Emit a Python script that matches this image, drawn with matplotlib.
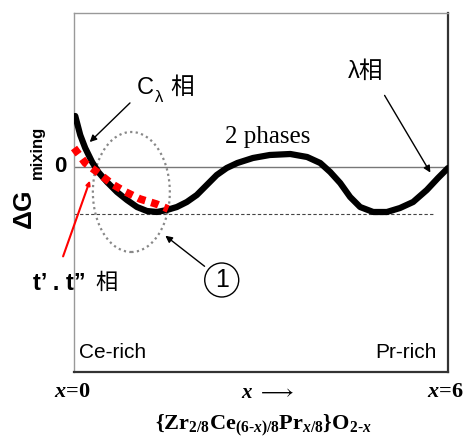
import numpy as np
import matplotlib.pyplot as plt
from matplotlib.patches import Ellipse

plt.rcParams['mathtext.fontset'] = 'custom'
plt.rcParams['mathtext.rm'] = 'Liberation Serif:bold'
plt.rcParams['mathtext.it'] = 'Liberation Serif:bold:italic'
plt.rcParams['mathtext.bf'] = 'Liberation Serif:bold'

SANS = ['Liberation Sans', 'Noto Sans CJK JP', 'DejaVu Sans']

##자유에너지 곡선 (읽은 값)
x_curve = [0.02, 0.10, 0.18, 0.29, 0.39, 0.53, 0.69, 0.85, 1.01, 1.17, 1.33, 1.49,
           1.65, 1.81, 1.97, 2.13, 2.29, 2.45, 2.62, 2.87, 3.14, 3.47, 3.74, 3.95,
           4.11, 4.27, 4.43, 4.59, 4.80, 5.02, 5.23, 5.44, 5.66, 5.84, 6.00]
g_curve = [1.02, 0.64, 0.38, 0.10, -0.10, -0.30, -0.50, -0.66, -0.80, -0.88, -0.90, -0.86,
           -0.80, -0.70, -0.56, -0.36, -0.16, -0.02, 0.08, 0.18, 0.24, 0.26, 0.20, 0.08,
           -0.10, -0.32, -0.60, -0.80, -0.90, -0.90, -0.82, -0.70, -0.46, -0.22, -0.02]

##t', t" 상 곡선
x_red = [0.00, 0.18, 0.39, 0.61, 0.83, 1.06, 1.32, 1.51]
g_red = [0.38, 0.08, -0.12, -0.34, -0.50, -0.64, -0.74, -0.84]

tangent_g = -0.94
tangent_end = 5.76

fig = plt.figure(figsize=(4.68, 4.38), dpi=100)
ax = fig.add_axes([74/468, 66/438, 374/468, 359/438])
ax.set_xlim(0, 6)
ax.set_ylim(-4.10, 3.08)
ax.set_xticks([])
ax.set_yticks([])
for s in ['top', 'left']:
    ax.spines[s].set_color('#999999')
    ax.spines[s].set_linewidth(1)
for s in ['bottom', 'right']:
    ax.spines[s].set_color('#333333')
    ax.spines[s].set_linewidth(1.6)

ax.axhline(0, color='#777777', lw=1)
ax.plot([0, tangent_end], [tangent_g, tangent_g], color='#444444', lw=0.8, ls=(0, (3, 2)))

ax.plot(x_curve, g_curve, color='black', lw=4.5, solid_capstyle='round',
        solid_joinstyle='round', zorder=3)
ax.plot(x_red, g_red, color='#ff0000', lw=5.5, ls=(0, (1, 0.8)), dash_capstyle='butt',
        zorder=4, clip_on=False)

ell = Ellipse((0.92, -0.50), 1.235, 2.4, fill=False, ec='#888888', lw=1.6, ls=(0, (1, 1.5)))
ax.add_patch(ell)

##주석
ax.annotate('', xy=(0.22, 0.46), xytext=(0.93, 1.32),
            arrowprops=dict(arrowstyle='-|>', color='black', lw=1, mutation_scale=10))
ax.text(1.01, 1.58, 'C', fontsize=17, family=SANS, va='center', ha='left')
ax.text(1.30, 1.40, 'λ', fontsize=12, family=SANS, va='center', ha='left')
ax.text(1.55, 1.58, '相', fontsize=17, family=SANS, va='center', ha='left')

ax.annotate('', xy=(5.74, -0.16), xytext=(4.96, 1.48),
            arrowprops=dict(arrowstyle='-|>', color='black', lw=1, mutation_scale=10))
ax.text(4.40, 1.90, 'λ相', fontsize=17, family=SANS, va='center', ha='left')

ax.text(2.42, 0.60, '2 phases', fontsize=18, family='Liberation Serif', va='center', ha='left')

ax.annotate('', xy=(1.43, -1.34), xytext=(2.13, -2.02),
            arrowprops=dict(arrowstyle='-|>', color='black', lw=1, mutation_scale=10))
ax.text(2.37, -2.26, '1', fontsize=18, family=SANS, va='center', ha='center',
        bbox=dict(boxstyle='circle,pad=0.2', fc='white', ec='black', lw=1))

ax.annotate('', xy=(0.27, -0.22), xytext=(-0.19, -1.84), annotation_clip=False,
            arrowprops=dict(arrowstyle='-|>', color='#ff0000', lw=1.5, mutation_scale=6))
ax.text(-0.66, -2.32, 't’ . t”', fontsize=17, family=SANS, weight='bold',
        va='center', ha='left', clip_on=False)
ax.text(0.34, -2.32, '相', fontsize=16, family=SANS, va='center', ha='left', clip_on=False)

ax.text(0.08, -3.72, 'Ce-rich', fontsize=15, family=SANS, va='center', ha='left')
ax.text(5.81, -3.72, 'Pr-rich', fontsize=15, family=SANS, va='center', ha='right')

ax.text(-0.02, 0, '0', fontsize=16, family=SANS, weight='bold',
        va='center', ha='right', transform=ax.get_yaxis_transform())

##축 라벨
fig.text(24/468, 1 - 208/438, 'ΔG', fontsize=19, family=SANS, weight='bold',
         rotation=90, va='center', ha='center')
fig.text(37/468, 1 - 152/438, 'mixing', fontsize=12, family=SANS, weight='bold',
         rotation=90, va='center', ha='center')

SERIF_B = dict(family='Liberation Serif', weight='bold')
fig.text(72/468, 1 - 392/438, r'$x$=0', fontsize=16, va='center', ha='center', **SERIF_B)
fig.text(268/468, 1 - 392/438, r'$x\ \longrightarrow$', fontsize=15, va='center', ha='center')
fig.text(445/468, 1 - 392/438, r'$x$=6', fontsize=16, va='center', ha='center', **SERIF_B)
fig.text(263/468, 1 - 425/438,
         r'$\{\mathrm{Zr}_{2/8}\mathrm{Ce}_{(6\text{-}x)/8}\mathrm{Pr}_{x/8}\}\mathrm{O}_{2\text{-}x}$',
         fontsize=16, va='center', ha='center')

fig.savefig('out.png', dpi=100)
